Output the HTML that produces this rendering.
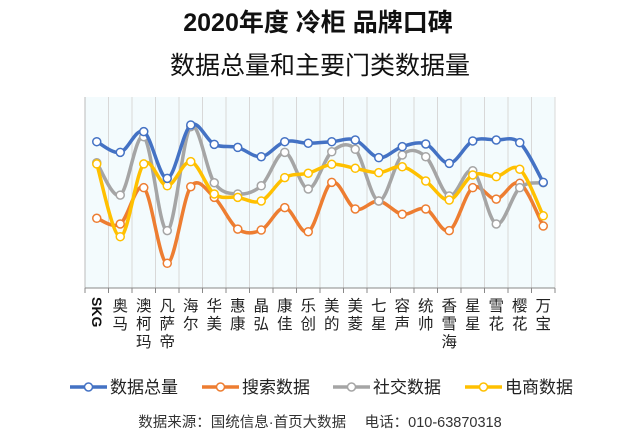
<!DOCTYPE html>
<html><head><meta charset="utf-8"><style>
body{margin:0;width:640px;height:433px;background:#fff;overflow:hidden;font-family:"Liberation Sans","Noto Sans CJK SC",sans-serif}
</style></head><body>
<svg width="640" height="433" id="chart" xmlns="http://www.w3.org/2000/svg" font-family="Liberation Sans, Noto Sans CJK SC, sans-serif">
<text x="318" y="31" text-anchor="middle" font-size="25" font-weight="bold" fill="#111">2020年度 冷柜 品牌口碑</text>
<text x="320" y="74" text-anchor="middle" font-size="25" fill="#111">数据总量和主要门类数据量</text>
<rect x="85" y="97" width="470" height="191" fill="#f3fbfd"/>
<g id="grid"></g><g id="series"></g><g id="labels"></g>
<line x1="85" y1="97" x2="85" y2="288" stroke="#bbb"/>
<line x1="85" y1="288" x2="555" y2="288" stroke="#888"/>
<g id="legend"></g>
<text x="320" y="427" text-anchor="middle" font-size="14.5" fill="#333">数据来源：国统信息·首页大数据　 电话：010-63870318</text>
</svg>
<script>
const categories=["SKG","奥马","澳柯玛","凡萨帝","海尔","华美","惠康","晶弘","康佳","乐创","美的","美菱","七星","容声","统帅","香雪海","星星","雪花","樱花","万宝"];
const seriesNames=["数据总量","搜索数据","社交数据","电商数据"];
const totalData=[77,71.4,82.3,57.7,85.8,75.6,74,69.1,77,76.2,77,77.9,68.6,74.4,75.8,65.6,77.4,77.9,76.5,55.6];
const searchData=[36.7,33.7,52.8,13,53.3,47.7,31,30.5,42.3,29.6,55.6,41.6,45.8,38.8,41.6,30.2,52.8,46.8,55.1,32.6];
const socialData=[65.9,48.9,79.6,30.2,84.9,55.4,49.5,53.8,71.4,52.1,71.7,73,45.8,70,69.1,48.4,61.7,33.7,52.8,55.4];
const ecomData=[65.3,27,65.3,53.8,66.5,49.5,47.7,45.8,58.1,60.4,65.1,63,60.7,63.8,56.3,46.3,59.5,58.6,62.5,38];
const colors=["#4472c4","#ed7d31","#a5a5a5","#ffc000"];
const NS="http://www.w3.org/2000/svg";
const X0=85,BW=470/categories.length,Y0=288;
const xs=i=>X0+BW*(i+0.5), ys=v=>Y0-v*1.9;
function mk(t,a,p){const e=document.createElementNS(NS,t);for(const k in a)e.setAttribute(k,a[k]);p.appendChild(e);return e;}
const grid=document.getElementById('grid'),labels=document.getElementById('labels');
for(let i=1;i<=categories.length;i++){
 const gl=mk('line',{x1:X0+BW*i,x2:X0+BW*i,y1:97,y2:288,stroke:'#d8d8d8'},grid);
 
 
}
for(let i=0;i<=categories.length;i++){
 const tk=mk('line',{x1:X0+BW*i,x2:X0+BW*i,y1:288,y2:293,stroke:'#888'},grid);
 
 
}
categories.forEach((c,i)=>{
 let t;
 if(/^[A-Z]/.test(c)){
  t=mk('text',{x:0,y:0,'font-size':14,'font-weight':'bold',fill:'#111',transform:`translate(${xs(i)-5},297) rotate(90)`},labels);
  t.textContent=c;
 } else {
  t=mk('text',{'font-size':15.5,fill:'#222','text-anchor':'middle'},labels);
  [...c].forEach((ch,k)=>{const s=mk('tspan',{x:xs(i),y:311+k*18},t);s.textContent=ch;});
 }
 
 
});
function path(d){
 const p=d.map((v,i)=>[xs(i),ys(v)]);let s=`M${p[0][0]},${p[0][1]}`;
 for(let i=0;i<p.length-1;i++){const a=p[i-1]||p[i],b=p[i],c=p[i+1],e=p[i+2]||c;
  s+=` C${b[0]+(c[0]-a[0])/6},${b[1]+(c[1]-a[1])/6} ${c[0]-(e[0]-b[0])/6},${c[1]-(e[1]-b[1])/6} ${c[0]},${c[1]}`;}
 return s;}
const sg=document.getElementById('series');
[searchData,socialData,ecomData,totalData].forEach((d,j)=>{
 const idx=[1,2,3,0][j];
 const g=mk('g',{},sg);
 
 
 mk('path',{d:path(d),fill:'none',stroke:colors[idx],'stroke-width':3.5},g);
 d.forEach((v,i)=>{const c=mk('circle',{cx:xs(i),cy:ys(v),r:4,fill:'#fff',stroke:colors[idx],'stroke-width':1.5},g);
  
  });
});
const lg=document.getElementById('legend');
const lx=[70,202,333,465];
seriesNames.forEach((n,i)=>{
 const g=mk('g',{},lg);
 
 
 mk('line',{x1:lx[i],x2:lx[i]+37,y1:387,y2:387,stroke:colors[i],'stroke-width':3.5},g);
 mk('circle',{cx:lx[i]+18.5,cy:387,r:4,fill:'#fff',stroke:colors[i],'stroke-width':1.5},g);
 const t=mk('text',{x:lx[i]+40,y:393,'font-size':17,fill:'#222'},g);t.textContent=n;
});
</script>
</body></html>
